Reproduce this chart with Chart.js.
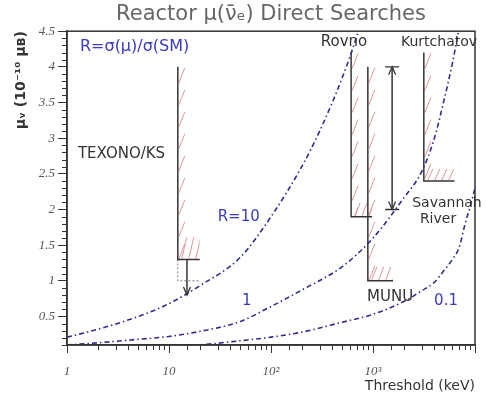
<!DOCTYPE html>
<html>
<head>
<meta charset="utf-8">
<script src="https://cdn.jsdelivr.net/npm/chart.js@4.4.1/dist/chart.umd.min.js"></script>
<style>
  html, body { margin: 0; padding: 0; background: #fff; }
  #wrap { width: 486px; height: 401px; }
</style>
</head>
<body>
<div id="wrap"><canvas id="chart" width="486" height="401"></canvas></div>
<script>
// Curves of constant R = sigma(mu)/sigma(SM), threshold in keV, mu in 10^-10 muB
const r10Threshold = [1, 2, 5, 10, 20, 50, 100, 200, 300, 500, 700, 800];
const r10Mu = [0.21, 0.32, 0.50, 0.68, 0.93, 1.33, 1.90, 2.60, 3.10, 3.85, 4.45, 4.75];
const r1Threshold = [1, 2, 5, 10, 20, 50, 100, 200, 500, 1000, 2000, 3000, 4000, 5000, 6000, 7000];
const r1Mu = [0.10, 0.13, 0.18, 0.22, 0.29, 0.43, 0.64, 0.87, 1.20, 1.60, 2.16, 2.53, 3.00, 3.55, 4.05, 4.55];
const r01Threshold = [10, 20, 50, 100, 200, 500, 1000, 2000, 3000, 4000, 5000, 6000, 7000, 8000, 9000, 10000];
const r01Mu = [0.07, 0.10, 0.16, 0.21, 0.28, 0.42, 0.53, 0.71, 0.86, 0.98, 1.15, 1.30, 1.47, 1.80, 2.05, 2.30];

// Experimental limits
const limitNames = ['TEXONO/KS', 'Rovno', 'MUNU', 'Kurtchatov'];
const limitThreshold = [12.2, 610, 890, 3150];
const limitEnd = [20, 980, 1570, 6300];
const limitMu = [1.3, 1.9, 1.0, 2.4];
const limitTop = [4.0, 4.2, 4.0, 4.2];

// TEXONO sensitivity, arrows [threshold, from, to]
const texonoSensitivity = 1.0;
const texonoArrow = [15, 1.3, 0.8];
const savannahArrow = [1540, 2.0, 4.0];

// axis ticks
const xTicks = [1, 10, 100, 1000];
const xTickLabels = ['1', '10', '10²', '10³'];
const yMin = 0.1, yMax = 4.5, yMinorStep = 0.1, yMajorStep = 0.5;

const pts = (xs, ys) => xs.map((x, i) => ({ x: x, y: ys[i] }));
const isMajorY = v => Math.abs(v / yMajorStep - Math.round(v / yMajorStep)) < 1e-6;
const xTickIndex = v => xTicks.findIndex(t => Math.abs(Math.log10(v) - Math.log10(t)) < 1e-6);
const isPow10 = v => Math.abs(Math.log10(v) - Math.round(Math.log10(v))) < 1e-6;

const dashDot = {
    showLine: true, pointRadius: 0, borderColor: '#2d2d8f', borderWidth: 1.6,
    borderDash: [5, 3, 1.5, 3], cubicInterpolationMode: 'monotone', fill: false
};
const solid = { showLine: true, pointRadius: 0, borderColor: '#333', borderWidth: 1.5, tension: 0, fill: false };

const datasets = [
    Object.assign({ label: 'R=10', data: pts(r10Threshold, r10Mu) }, dashDot),
    Object.assign({ label: 'R=1', data: pts(r1Threshold, r1Mu) }, dashDot),
    Object.assign({ label: 'R=0.1', data: pts(r01Threshold, r01Mu) }, dashDot)
];
limitNames.forEach((name, i) => {
    datasets.push(Object.assign({
        label: name,
        data: [
            { x: limitThreshold[i], y: limitTop[i] },
            { x: limitThreshold[i], y: limitMu[i] },
            { x: limitEnd[i], y: limitMu[i] }
        ]
    }, solid));
});
datasets.push(Object.assign({}, solid, {
    label: 'TEXONO sensitivity',
    data: [
        { x: limitThreshold[0], y: limitMu[0] },
        { x: limitThreshold[0], y: texonoSensitivity },
        { x: limitEnd[0], y: texonoSensitivity }
    ],
    borderColor: '#777', borderWidth: 1, borderDash: [2, 2]
}));
datasets.push(Object.assign({ label: 'TEXONO arrow', data: [{ x: texonoArrow[0], y: texonoArrow[1] }, { x: texonoArrow[0], y: texonoArrow[2] }] }, solid));
datasets.push(Object.assign({ label: 'Savannah River', data: [{ x: savannahArrow[0], y: savannahArrow[1] }, { x: savannahArrow[0], y: savannahArrow[2] }] }, solid));

// hatching, arrow heads, frame, minor ticks and labels
const decor = {
    id: 'decor',
    beforeDatasetsDraw(chart) {
        const { ctx, scales: { x, y } } = chart;
        const bandH = [22, 14, 14, 12];
        ctx.save();
        ctx.strokeStyle = '#d98a8a';
        ctx.lineWidth = 0.9;
        limitNames.forEach((n, i) => {
            const x0 = x.getPixelForValue(limitThreshold[i]);
            const x1 = x.getPixelForValue(limitEnd[i]);
            const yt = y.getPixelForValue(limitTop[i]);
            const yb = y.getPixelForValue(limitMu[i]);
            ctx.save();
            ctx.beginPath();
            ctx.rect(x0, yt, 9, yb - yt);
            ctx.rect(x0, yb - bandH[i], x1 - x0, bandH[i]);
            ctx.clip();
            ctx.beginPath();
            for (let yy = yt + 16; yy < yb + 14; yy += 22) {
                ctx.moveTo(x0 + 1, yy);
                ctx.lineTo(x0 + 7, yy - 15);
            }
            for (let xx = x0 + 4; xx < x1; xx += 7) {
                ctx.moveTo(xx, yb - 1);
                ctx.lineTo(xx + 5, yb - bandH[i]);
            }
            ctx.stroke();
            ctx.restore();
        });
        ctx.restore();
    },
    afterDatasetsDraw(chart) {
        const { ctx, scales: { x, y } } = chart;
        ctx.save();
        ctx.strokeStyle = '#333';
        ctx.lineWidth = 1.3;
        const head = (px, py, dir) => {
            ctx.beginPath();
            ctx.moveTo(px - 3.5, py - dir * 8);
            ctx.lineTo(px, py);
            ctx.lineTo(px + 3.5, py - dir * 8);
            ctx.stroke();
        };
        // TEXONO arrow
        head(x.getPixelForValue(texonoArrow[0]), y.getPixelForValue(texonoArrow[2]), 1);
        // Savannah River double arrow with bars
        const sx = x.getPixelForValue(savannahArrow[0]);
        const sLo = y.getPixelForValue(savannahArrow[1]);
        const sHi = y.getPixelForValue(savannahArrow[2]);
        head(sx, sLo, 1);
        head(sx, sHi, -1);
        ctx.beginPath();
        ctx.moveTo(sx - 7, sLo); ctx.lineTo(sx + 7, sLo);
        ctx.moveTo(sx - 7, sHi); ctx.lineTo(sx + 7, sHi);
        ctx.stroke();

        // annotations anchored in data space
        const labels = [
            { t: 'R=σ(μ)/σ(SM)', x: 1.34, y: 4.28, c: '#3a3ac8', a: 'left', s: 16 },
            { t: 'TEXONO/KS', x: 1.28, y: 2.78, c: '#333', a: 'left', s: 15 },
            { t: 'R=10', x: 30, y: 1.9, c: '#3a3ac8', a: 'left', s: 15 },
            { t: '1', x: 58, y: 0.71, c: '#3a3ac8', a: 'center', s: 15 },
            { t: '0.1', x: 5200, y: 0.71, c: '#3a3ac8', a: 'center', s: 15 },
            { t: 'Rovno', x: 520, y: 4.35, c: '#333', a: 'center', s: 15 },
            { t: 'Kurtchatov', x: 4440, y: 4.35, c: '#333', a: 'center', s: 14 },
            { t: 'MUNU', x: 1470, y: 0.77, c: '#333', a: 'center', s: 15 },
            { t: 'Savannah', x: 5310, y: 2.08, c: '#333', a: 'center', s: 14 },
            { t: 'River', x: 4340, y: 1.86, c: '#333', a: 'center', s: 14 }
        ];
        ctx.textBaseline = 'middle';
        labels.forEach(l => {
            ctx.font = l.s + 'px "DejaVu Sans"';
            ctx.fillStyle = l.c;
            ctx.textAlign = l.a;
            ctx.fillText(l.t, x.getPixelForValue(l.x), y.getPixelForValue(l.y));
        });
        ctx.restore();
    },
    afterDraw(chart) {
        const { ctx, chartArea: a, scales: { x, y } } = chart;
        ctx.save();
        ctx.strokeStyle = '#333';
        ctx.lineWidth = 1.5;
        ctx.strokeRect(a.left, a.top, a.right - a.left, a.bottom - a.top);
        ctx.lineWidth = 1;
        ctx.beginPath();
        y.ticks.forEach(t => {
            if (isMajorY(t.value)) return;
            const py = Math.round(y.getPixelForValue(t.value)) + 0.5;
            ctx.moveTo(a.left, py); ctx.lineTo(a.left - 5, py);
        });
        x.ticks.forEach(t => {
            if (isPow10(t.value)) return;
            const px = Math.round(x.getPixelForValue(t.value)) + 0.5;
            ctx.moveTo(px, a.bottom); ctx.lineTo(px, a.bottom + 5);
        });
        ctx.stroke();
        ctx.restore();
    }
};

const tickFont = { family: 'Liberation Serif', size: 13, style: 'italic' };

new Chart(document.getElementById('chart').getContext('2d'), {
    type: 'scatter',
    data: { datasets: datasets },
    options: {
        responsive: false,
        animation: false,
        layout: { padding: { left: 0, right: 11, top: 0, bottom: 0 } },
        plugins: {
            legend: { display: false },
            tooltip: { enabled: false },
            title: {
                display: true,
                fullSize: false,
                text: 'Reactor μ(ν̄ₑ) Direct Searches',
                color: '#666',
                font: { family: 'DejaVu Sans', size: 21, weight: 'normal' },
                padding: { top: 2, bottom: 4 }
            }
        },
        scales: {
            x: {
                type: 'logarithmic',
                min: 1,
                max: 10000,
                afterFit: s => { s.height = 56; },
                border: { display: true, color: '#333', width: 1.5 },
                grid: {
                    drawOnChartArea: false,
                    tickLength: 8,
                    tickColor: c => isPow10(c.tick.value) ? '#333' : 'rgba(0,0,0,0)'
                },
                ticks: {
                    autoSkip: false,
                    maxRotation: 0,
                    padding: 11,
                    color: '#555',
                    font: tickFont,
                    callback: v => { const i = xTickIndex(v); return i >= 0 ? xTickLabels[i] : ''; }
                },
                title: {
                    display: true,
                    text: 'Threshold (keV)',
                    align: 'end',
                    color: '#333',
                    font: { family: 'DejaVu Sans', size: 14 },
                    padding: { top: 0, bottom: 6 }
                }
            },
            y: {
                min: yMin,
                max: yMax,
                afterFit: s => { s.width = 67; },
                border: { display: true, color: '#333', width: 1.5 },
                grid: {
                    drawOnChartArea: false,
                    tickLength: 9,
                    tickColor: c => isMajorY(c.tick.value) ? '#333' : 'rgba(0,0,0,0)'
                },
                ticks: {
                    stepSize: yMinorStep,
                    maxTicksLimit: 100,
                    autoSkip: false,
                    padding: 3,
                    color: '#555',
                    font: tickFont,
                    callback: v => isMajorY(v) ? String(Math.round(v * 10) / 10) : ''
                },
                title: {
                    display: true,
                    text: 'μᵥ (10⁻¹⁰ μʙ)',
                    align: 'end',
                    color: '#333',
                    font: { family: 'DejaVu Sans', size: 14, weight: 'bold' },
                    padding: { top: 13, bottom: 0 }
                }
            }
        }
    },
    plugins: [decor]
});
</script>
</body>
</html>
